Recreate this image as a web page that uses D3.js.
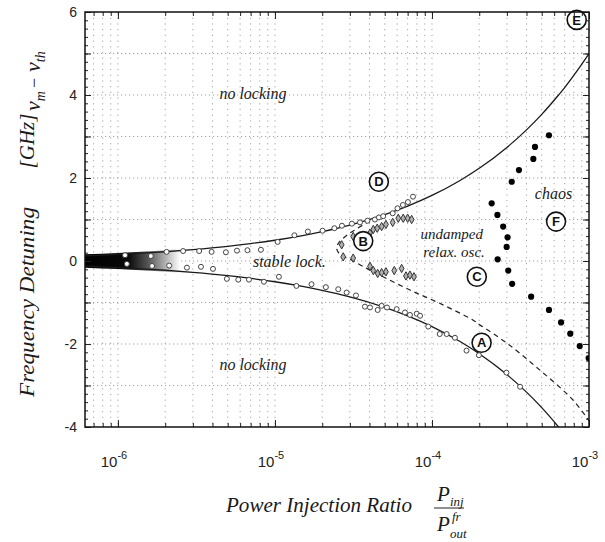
<!DOCTYPE html>
<html>
<head>
<meta charset="utf-8">
<script src="https://cdn.jsdelivr.net/npm/d3@7/dist/d3.min.js"></script>
<style>
  body { margin: 0; background: #fff; }
  svg { display: block; }
</style>
</head>
<body>
<svg id="chart" width="605" height="542"></svg>
<script>
// ---- axis definitions ----
const xDomain = [6.17e-7, 1e-3];
const yDomain = [-4, 6];
const xMajorTicks = [1e-6, 1e-5, 1e-4, 1e-3];
const xTickExponents = ["-6", "-5", "-4", "-3"];
const yMajorTicks = [-4, -2, 0, 2, 4, 6];

// ---- theoretical locking-range boundary (solid) ----
const boundaryP = [6.17e-7, 1e-6, 1.5e-6, 2e-6, 3e-6, 5e-6, 7e-6, 1e-5, 1.5e-5, 2e-5, 3e-5, 5e-5, 7e-5,
                   1e-4, 1.5e-4, 2e-4, 3e-4, 4e-4, 5e-4, 6.4e-4, 7e-4, 8.5e-4, 1e-3];
const boundaryUpper = [0.124, 0.158, 0.194, 0.223, 0.274, 0.353, 0.418, 0.50, 0.612, 0.707, 0.865, 1.117, 1.322,
                       1.58, 1.935, 2.234, 2.737, 3.16, 3.533, 4.0, 4.18, 4.61, 5.0];
const boundaryLower = [-0.124, -0.158, -0.194, -0.223, -0.274, -0.353, -0.418, -0.50, -0.612, -0.707, -0.865, -1.117, -1.322,
                       -1.58, -1.935, -2.234, -2.737, -3.16, -3.533, -4.0, -4.18, -4.61, -5.0];

// ---- stability boundary of the locked state (dashed) ----
const stabP = [4.03e-5, 3.33e-5, 2.87e-5, 2.56e-5, 2.47e-5, 2.54e-5, 2.75e-5, 3.09e-5, 3.80e-5, 4.88e-5,
               7.24e-5, 1.12e-4, 1.82e-4, 2.02e-4, 3.00e-4, 4.87e-4, 7.91e-4, 1e-3];
const stabV = [0.97, 0.78, 0.62, 0.45, 0.32, 0.20, 0.10, 0.02, -0.17, -0.38,
               -0.70, -1.02, -1.42, -1.54, -1.98, -2.63, -3.35, -3.85];

// ---- measured locking edges (open circles) ----
const lockUpperP = [1.11e-6, 1.62e-6, 2.04e-6, 2.60e-6, 3.29e-6, 3.95e-6, 4.87e-6, 5.73e-6, 6.68e-6, 8.14e-6,
                    1.04e-5, 1.33e-5, 1.62e-5, 2.01e-5, 2.39e-5, 2.67e-5, 3.09e-5, 3.48e-5, 3.88e-5, 4.33e-5,
                    4.59e-5, 4.89e-5, 5.62e-5, 6.03e-5, 6.53e-5, 7.03e-5, 7.57e-5];
const lockUpperV = [0.14, 0.12, 0.22, 0.24, 0.24, 0.22, 0.21, 0.25, 0.26, 0.27,
                    0.46, 0.62, 0.71, 0.73, 0.79, 0.85, 0.90, 0.93, 0.97, 1.00,
                    1.05, 1.08, 1.15, 1.27, 1.35, 1.42, 1.55];
const lockLowerP = [1.14e-6, 1.65e-6, 2.12e-6, 2.75e-6, 3.38e-6, 4.03e-6, 4.94e-6, 5.84e-6, 6.83e-6, 8.51e-6,
                    1.06e-5, 1.37e-5, 1.71e-5, 2.11e-5, 2.53e-5, 2.86e-5, 3.28e-5, 3.74e-5, 4.03e-5, 4.51e-5,
                    4.78e-5, 5.17e-5, 5.96e-5, 6.73e-5, 7.24e-5, 8.00e-5, 8.40e-5, 9.47e-5, 1.12e-4, 1.24e-4,
                    1.40e-4, 1.66e-4, 1.99e-4, 2.98e-4, 3.64e-4];
const lockLowerV = [-0.07, -0.12, -0.11, -0.16, -0.14, -0.19, -0.43, -0.45, -0.45, -0.50,
                    -0.38, -0.60, -0.56, -0.63, -0.68, -0.76, -0.83, -1.10, -1.12, -1.18,
                    -1.08, -1.12, -1.16, -1.24, -1.30, -1.27, -1.32, -1.58, -1.76, -1.76,
                    -1.85, -2.16, -2.27, -2.69, -3.03];

// ---- onset of undamped relaxation oscillations (diamonds) ----
const relaxP = [2.66e-5, 3.15e-5, 4.03e-5, 4.23e-5, 4.48e-5, 4.78e-5, 5.09e-5, 5.62e-5, 6.10e-5, 6.56e-5, 7.00e-5, 7.42e-5,
                2.72e-5, 3.15e-5, 4.03e-5, 4.23e-5, 4.51e-5, 4.78e-5, 5.09e-5, 5.75e-5, 6.41e-5, 6.83e-5, 7.24e-5, 7.68e-5];
const relaxV = [0.39, 0.59, 0.67, 0.76, 0.79, 0.83, 0.88, 0.93, 1.03, 1.03, 1.03, 1.00,
                0.10, 0.07, -0.13, -0.23, -0.30, -0.28, -0.26, -0.23, -0.18, -0.36, -0.34, -0.38];

// ---- onset of chaos (filled dots) ----
const chaosP = [5.56e-4, 4.53e-4, 4.42e-4, 3.58e-4, 3.22e-4, 2.40e-4, 2.61e-4, 2.84e-4, 3.03e-4, 2.99e-4,
                2.62e-4, 3.06e-4, 3.24e-4, 4.28e-4, 5.56e-4, 6.64e-4, 7.60e-4, 8.73e-4, 9.95e-4];
const chaosV = [3.03, 2.75, 2.46, 2.19, 1.91, 1.39, 1.11, 0.83, 0.57, 0.34,
                0.04, -0.23, -0.55, -0.86, -1.18, -1.48, -1.75, -2.05, -2.34];

// ---- region names and operating-point markers ----
const regionText = ["no locking", "no locking", "stable lock.", "undamped", "relax. osc.", "chaos"];
const regionP = [7.24e-6, 7.24e-6, 7.24e-6, 2.11e-4, 2.17e-4, 5.94e-4];
const regionV = [3.90, -2.63, -0.15, 0.52, 0.10, 1.49];
const regionAnchor = ["middle", "middle", "start", "end", "end", "middle"];
const markerLetters = ["A", "B", "C", "D", "E", "F"];
const markerP = [2.07e-4, 3.65e-5, 1.93e-4, 4.59e-5, 8.35e-4, 6.17e-4];
const markerV = [-1.97, 0.48, -0.38, 1.91, 5.81, 0.95];

// ---- layout ----
const W = 605, H = 542;
const margin = { left: 85, right: 16, top: 12, bottom: 115 };
const svg = d3.select("#chart");
const x = d3.scaleLog().domain(xDomain).range([margin.left, W - margin.right]);
const y = d3.scaleLinear().domain(yDomain).range([H - margin.bottom, margin.top]);
const [x0, x1] = x.range();
const [y0, y1] = y.range();

const defs = svg.append("defs");
defs.append("clipPath").attr("id", "plotClip")
  .append("rect").attr("x", x0).attr("y", y1).attr("width", x1 - x0).attr("height", y0 - y1);

// minor positions of the log axis
const xMinor = [];
for (let e = -7; e <= -3; e++) {
  for (let k = 1; k <= 9; k++) {
    const v = k * Math.pow(10, e);
    if (v >= xDomain[0] && v <= xDomain[1] * 1.0001) xMinor.push(v);
  }
}
const yMinor = d3.range(-4, 6.001, 0.2).map(v => +v.toFixed(2));
const yGrid = d3.range(-3, 6, 1);

// ---- dotted grid ----
const grid = svg.append("g").attr("stroke", "#9a9a9a").attr("fill", "none");
grid.selectAll("line.vg").data(xMinor.filter(v => v < xDomain[1] * 0.999)).join("line")
  .attr("x1", d => x(d)).attr("x2", d => x(d)).attr("y1", y1).attr("y2", y0)
  .attr("stroke-width", 0.9).attr("stroke-dasharray", "1.2,4.5");
grid.selectAll("line.hg").data(yGrid).join("line")
  .attr("x1", x0).attr("x2", x1).attr("y1", d => y(d)).attr("y2", d => y(d))
  .attr("stroke-width", 0.9).attr("stroke-dasharray", "1.2,2.8");

const plot = svg.append("g").attr("clip-path", "url(#plotClip)");

// ---- dense measurements at low injection, shading from black to white ----
const bandEnd = 2.5e-6;
const grad = defs.append("linearGradient").attr("id", "bandShade")
  .attr("gradientUnits", "userSpaceOnUse")
  .attr("x1", x0).attr("x2", x(bandEnd)).attr("y1", 0).attr("y2", 0);
grad.append("stop").attr("offset", 0).attr("stop-color", "#000");
grad.append("stop").attr("offset", 0.45).attr("stop-color", "#080808");
grad.append("stop").attr("offset", 0.66).attr("stop-color", "#555");
grad.append("stop").attr("offset", 0.86).attr("stop-color", "#bbb");
grad.append("stop").attr("offset", 1).attr("stop-color", "#fff");

const bandIdx = boundaryP.map((p, i) => i).filter(i => boundaryP[i] <= 3e-6);
const area = d3.area()
  .x(i => x(boundaryP[i]))
  .y0(i => y(boundaryLower[i]) + 1.5)
  .y1(i => y(boundaryUpper[i]) - 1.5)
  .curve(d3.curveMonotoneX);
const bandClip = defs.append("clipPath").attr("id", "bandClip");
bandClip.append("rect").attr("x", x0).attr("y", y1).attr("width", x(bandEnd) - x0).attr("height", y0 - y1);
plot.append("path").datum(bandIdx)
  .attr("d", area).attr("fill", "url(#bandShade)").attr("clip-path", "url(#bandClip)");

// ---- boundary curves ----
const lineFrom = (ps, vs) => d3.line()
  .x(i => x(ps[i])).y(i => y(vs[i]))
  .curve(d3.curveMonotoneX)(d3.range(ps.length));
plot.append("path").attr("d", lineFrom(boundaryP, boundaryUpper))
  .attr("fill", "none").attr("stroke", "#1a1a1a").attr("stroke-width", 1.3);
plot.append("path").attr("d", lineFrom(boundaryP, boundaryLower))
  .attr("fill", "none").attr("stroke", "#1a1a1a").attr("stroke-width", 1.3);

const stabLine = d3.line()
  .x(i => x(stabP[i])).y(i => y(stabV[i]))
  .curve(d3.curveCatmullRom.alpha(0.5));
plot.append("path").attr("d", stabLine(d3.range(stabP.length)))
  .attr("fill", "none").attr("stroke", "#222").attr("stroke-width", 1.2)
  .attr("stroke-dasharray", "5,4");

// ---- measured points ----
const openCircles = (ps, vs) => plot.append("g").selectAll("circle")
  .data(d3.range(ps.length)).join("circle")
  .attr("cx", i => x(ps[i])).attr("cy", i => y(vs[i])).attr("r", 2.5)
  .attr("fill", "#fff").attr("stroke", "#444").attr("stroke-width", 1);
openCircles(lockUpperP, lockUpperV);
openCircles(lockLowerP, lockLowerV);

plot.append("g").selectAll("path")
  .data(d3.range(relaxP.length)).join("path")
  .attr("transform", i => `translate(${x(relaxP[i])},${y(relaxV[i])})`)
  .attr("d", d3.symbol().type(d3.symbolDiamond).size(20))
  .attr("fill", "#b0b0b0").attr("stroke", "#333").attr("stroke-width", 1);

plot.append("g").selectAll("circle")
  .data(d3.range(chaosP.length)).join("circle")
  .attr("cx", i => x(chaosP[i])).attr("cy", i => y(chaosV[i])).attr("r", 3.1)
  .attr("fill", "#000");

// ---- region names ----
svg.append("g").selectAll("text")
  .data(d3.range(regionText.length)).join("text")
  .attr("x", i => x(regionP[i])).attr("y", i => y(regionV[i]))
  .attr("text-anchor", i => regionAnchor[i])
  .attr("font-family", "'Liberation Serif', 'DejaVu Serif', serif")
  .attr("font-style", "italic").attr("font-size", i => (i === 3 || i === 4) ? 15 : 16).attr("fill", "#1a1a1a")
  .text(i => regionText[i]);

// ---- circled operating-point letters ----
const mk = svg.append("g").selectAll("g")
  .data(d3.range(markerLetters.length)).join("g")
  .attr("transform", i => `translate(${x(markerP[i])},${y(markerV[i])})`);
mk.append("circle").attr("r", 9.5).attr("fill", "#fff").attr("stroke", "#111").attr("stroke-width", 1.6);
mk.append("text").attr("text-anchor", "middle").attr("dy", "0.36em")
  .attr("font-family", "'Liberation Sans', Arial, sans-serif").attr("font-weight", "bold")
  .attr("font-size", 13).attr("fill", "#111")
  .text(i => markerLetters[i]);

// ---- axes: ticks point inward on all four sides ----
const axisStyle = g => { g.select(".domain").remove(); g.selectAll("line").attr("stroke", "#222").attr("stroke-width", 1); };
svg.append("g").attr("transform", `translate(0,${y0})`)
  .call(d3.axisBottom(x).tickValues(xMinor).tickSize(-4).tickFormat(""))
  .call(axisStyle);
svg.append("g").attr("transform", `translate(0,${y0})`)
  .call(d3.axisBottom(x).tickValues(xMajorTicks).tickSize(-7).tickFormat(""))
  .call(axisStyle);
svg.append("g").attr("transform", `translate(0,${y1})`)
  .call(d3.axisTop(x).tickValues(xMinor).tickSize(-4).tickFormat(""))
  .call(axisStyle);
svg.append("g").attr("transform", `translate(0,${y1})`)
  .call(d3.axisTop(x).tickValues(xMajorTicks).tickSize(-7).tickFormat(""))
  .call(axisStyle);
svg.append("g").attr("transform", `translate(${x0},0)`)
  .call(d3.axisLeft(y).tickValues(yMinor).tickSize(-3).tickFormat(""))
  .call(axisStyle);
svg.append("g").attr("transform", `translate(${x0},0)`)
  .call(d3.axisLeft(y).tickValues(yGrid.concat([-4, 6])).tickSize(-6).tickFormat(""))
  .call(axisStyle);
svg.append("g").attr("transform", `translate(${x1},0)`)
  .call(d3.axisRight(y).tickValues(yMinor).tickSize(-3).tickFormat(""))
  .call(axisStyle);
svg.append("g").attr("transform", `translate(${x1},0)`)
  .call(d3.axisRight(y).tickValues(yGrid.concat([-4, 6])).tickSize(-6).tickFormat(""))
  .call(axisStyle);

// frame
svg.append("rect").attr("x", x0).attr("y", y1).attr("width", x1 - x0).attr("height", y0 - y1)
  .attr("fill", "none").attr("stroke", "#111").attr("stroke-width", 1.5);

// y tick labels
svg.append("g").selectAll("text").data(yMajorTicks).join("text")
  .attr("x", x0 - 8).attr("y", d => y(d)).attr("dy", "0.38em")
  .attr("text-anchor", "end")
  .attr("font-family", "'Liberation Sans', Arial, sans-serif").attr("font-size", 14).attr("fill", "#222")
  .text(d => d);

// x tick labels with exponent
const xl = svg.append("g").selectAll("text").data(d3.range(xMajorTicks.length)).join("text")
  .attr("x", i => x(xMajorTicks[i]) - 4).attr("y", y0 + 40)
  .attr("text-anchor", "middle")
  .attr("font-family", "'Liberation Sans', Arial, sans-serif").attr("font-size", 15).attr("fill", "#222");
xl.append("tspan").text("10");
xl.append("tspan").attr("dy", -8).attr("font-size", 11).text(i => xTickExponents[i]);

// x title with the injection ratio fraction
const serif = "'Liberation Serif', 'DejaVu Serif', serif";
const titleText = (tx, ty, str, size, extra) => {
  const t = svg.append("text").attr("x", tx).attr("y", ty)
    .attr("font-family", serif).attr("font-style", "italic").attr("font-size", size).attr("fill", "#1a1a1a")
    .text(str);
  if (extra) extra(t);
  return t;
};
titleText(226, 512, "Power Injection Ratio", 20, t => t.attr("textLength", 186).attr("lengthAdjust", "spacingAndGlyphs"));
titleText(437, 501, "P", 21);
titleText(450, 506, "inj", 13);
svg.append("line").attr("x1", 434).attr("x2", 464).attr("y1", 508).attr("y2", 508)
  .attr("stroke", "#222").attr("stroke-width", 1);
titleText(437, 531, "P", 21);
titleText(452, 521, "fr", 13);
titleText(450, 538, "out", 13);

// y title (rotated)
const rotText = (tx, ty, anchor, size) => svg.append("text")
  .attr("transform", `translate(${tx},${ty}) rotate(-90)`)
  .attr("text-anchor", anchor)
  .attr("font-family", serif).attr("font-style", "italic").attr("font-size", size).attr("fill", "#1a1a1a");
rotText(34, 397, "start", 21).text("Frequency Detuning")
  .attr("textLength", 190).attr("lengthAdjust", "spacingAndGlyphs");
rotText(34, 141, "middle", 21).text("[GHz]");
const nuA = rotText(40, 111, "start", 22);
nuA.append("tspan").text("ν");
nuA.append("tspan").attr("dy", 5).attr("font-size", 14).text("m");
rotText(40, 88, "start", 18).attr("font-style", "normal").text("−");
const nuB = rotText(40, 72, "start", 22);
nuB.append("tspan").text("ν");
nuB.append("tspan").attr("dy", 5).attr("font-size", 14).text("th");
</script>
</body>
</html>
